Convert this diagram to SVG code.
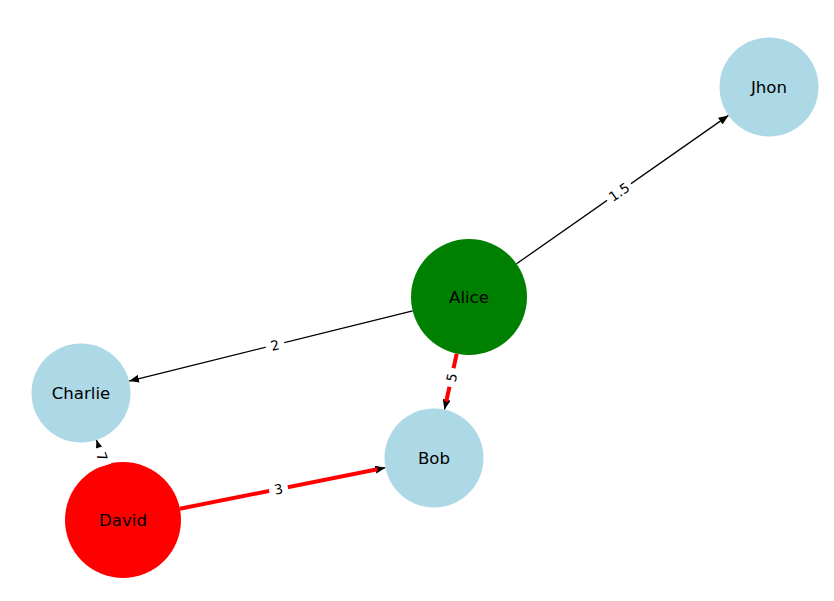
<svg xmlns="http://www.w3.org/2000/svg" width="834" height="601" viewBox="0 0 834 601">
  <style>
    .edge { stroke: #000; stroke-width: 1.3; fill: none; }
    .hot { stroke: #ff0000; stroke-width: 4; fill: none; }
    .node-text { font-family: "DejaVu Sans", sans-serif; font-size: 16.6px; fill: #000; text-anchor: middle; dominant-baseline: central; }
    .elabel { font-family: "DejaVu Sans", sans-serif; font-size: 13.5px; fill: #000; text-anchor: middle; dominant-baseline: central; }
    .lbox { fill: #fff; stroke: #fff; }
  </style>
  <defs>
    <marker id="arrow" viewBox="0 0 10 8" refX="10" refY="4" markerWidth="10" markerHeight="8" markerUnits="userSpaceOnUse" orient="auto">
      <path d="M0,0 L10,4 L0,8 Z" fill="#000"/>
    </marker>
  </defs>
  <rect width="834" height="601" fill="#fff"/>

  <g id="connectors">
    <line class="edge" x1="516.5" y1="263.8" x2="728.5" y2="115.4" marker-end="url(#arrow)"/>
    <line class="edge" x1="412.7" y1="310.9" x2="129.1" y2="381.1" marker-end="url(#arrow)"/>
    <line class="edge" x1="456.7" y1="353.7" x2="444.5" y2="409.6" marker-end="url(#arrow)"/>
    <line class="edge" x1="179.9" y1="508.7" x2="385.4" y2="467.7" marker-end="url(#arrow)"/>
    <line class="edge" x1="104.8" y1="464.9" x2="96.5" y2="440" marker-end="url(#arrow)"/>
    <!-- highlighted path -->
    <line class="hot" x1="456.7" y1="353.7" x2="446.2" y2="401.8"/>
    <line class="hot" x1="179.9" y1="508.7" x2="377.5" y2="469.3"/>
  </g>

  <g id="Jhon"><circle cx="769" cy="87" r="49.5" fill="#add8e6"/><text class="node-text" x="769" y="87">Jhon</text></g>
  <g id="Alice"><circle cx="469" cy="297" r="58" fill="#008000"/><text class="node-text" x="469" y="297">Alice</text></g>
  <g id="Charlie"><circle cx="81" cy="393" r="49.5" fill="#add8e6"/><text class="node-text" x="81" y="393">Charlie</text></g>
  <g id="Bob"><circle cx="434" cy="458" r="49.5" fill="#add8e6"/><text class="node-text" x="434" y="458">Bob</text></g>
  <g id="David"><circle cx="123" cy="520" r="58" fill="#ff0000"/><text class="node-text" x="123" y="520">David</text></g>

  <g id="edge-labels">
    <g transform="translate(619,192) rotate(-35)"><rect class="lbox" x="-14" y="-9" width="28" height="18" rx="4"/><text class="elabel" x="0" y="0">1.5</text></g>
    <g transform="translate(275,345) rotate(-13.9)"><rect class="lbox" x="-9" y="-9" width="18" height="18" rx="4"/><text class="elabel" x="0" y="0">2</text></g>
    <g transform="translate(451.5,377.5) rotate(-77.7)"><rect class="lbox" x="-9" y="-9" width="18" height="18" rx="4"/><text class="elabel" x="0" y="0">5</text></g>
    <g transform="translate(278.5,489) rotate(-11.3)"><rect class="lbox" x="-9" y="-9" width="18" height="18" rx="4"/><text class="elabel" x="0" y="0">3</text></g>
    <g transform="translate(102,456.5) rotate(71.7)"><rect class="lbox" x="-9" y="-9" width="18" height="18" rx="4"/><text class="elabel" x="0" y="0">7</text></g>
  </g>
</svg>
